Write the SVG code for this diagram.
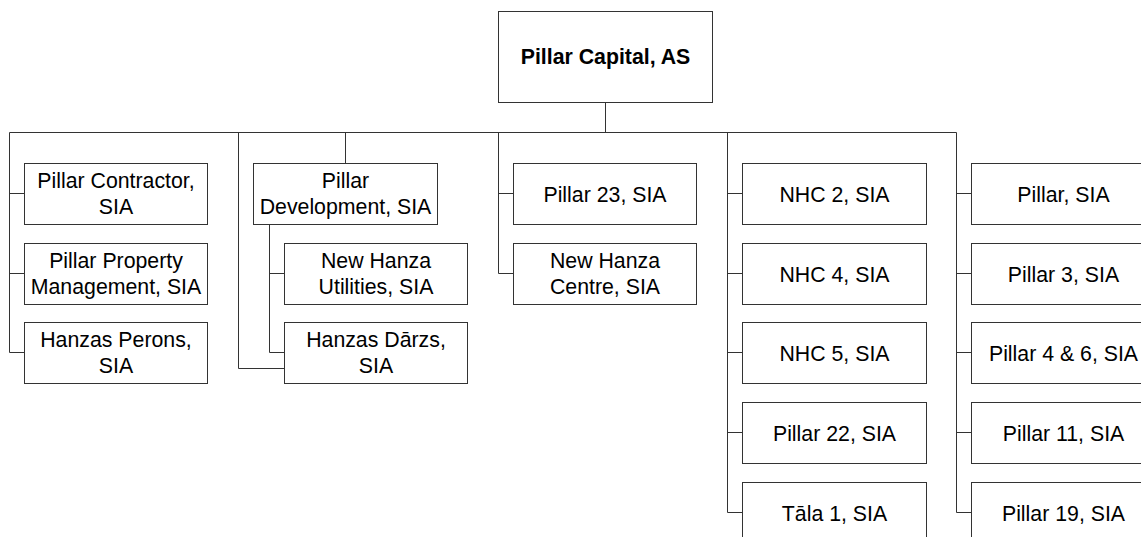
<svg xmlns="http://www.w3.org/2000/svg" width="1141" height="537" viewBox="0 0 1141 537">
<style>
.box{fill:#fff;stroke:#333;stroke-width:1}
.con{fill:none;stroke:#333;stroke-width:1}
text{font-family:"Liberation Sans",Arial,sans-serif;font-size:21.3px;fill:#000;text-anchor:middle}
.b{font-weight:bold}
</style>
<rect width="1141" height="537" fill="#fff"/>
<g id="connectors">
<path class="con" d="M605.5 102.5V132.5M9.5 132.5H956.5V512.5H971.5"/>
<path class="con" d="M9.5 132.5V352.5H24.5M9.5 193.5H24.5M9.5 273.5H24.5"/>
<path class="con" d="M238.5 132.5V368.5H284.5M345.5 132.5V163.5M269.5 224.5V352.5H284.5M269.5 273.5H284.5"/>
<path class="con" d="M498.5 132.5V273.5H513.5M498.5 193.5H513.5"/>
<path class="con" d="M727.5 132.5V512.5H742.5M727.5 193.5H742.5M727.5 273.5H742.5M727.5 352.5H742.5M727.5 432.5H742.5"/>
<path class="con" d="M956.5 193.5H971.5M956.5 273.5H971.5M956.5 352.5H971.5M956.5 432.5H971.5"/>
</g>
<g id="pillar-capital"><rect class="box" x="498.5" y="11.5" width="214" height="91"/><text class="b" x="605.5" y="64">Pillar Capital, AS</text></g>
<g id="pillar-contractor"><rect class="box" x="24.5" y="163.5" width="183" height="61"/><text x="116" y="187.5">Pillar Contractor,</text><text x="116" y="214">SIA</text></g>
<g id="pillar-property"><rect class="box" x="24.5" y="243.5" width="183" height="61"/><text x="116" y="267.5">Pillar Property</text><text x="116" y="294">Management, SIA</text></g>
<g id="hanzas-perons"><rect class="box" x="24.5" y="322.5" width="183" height="61"/><text x="116" y="346.5">Hanzas Perons,</text><text x="116" y="373">SIA</text></g>
<g id="pillar-development"><rect class="box" x="253.5" y="163.5" width="184" height="61"/><text x="345.5" y="187.5">Pillar</text><text x="345.5" y="214">Development, SIA</text></g>
<g id="new-hanza-utilities"><rect class="box" x="284.5" y="243.5" width="183" height="61"/><text x="376" y="267.5">New Hanza</text><text x="376" y="294">Utilities, SIA</text></g>
<g id="hanzas-darzs"><rect class="box" x="284.5" y="322.5" width="183" height="61"/><text x="376" y="346.5">Hanzas Dārzs,</text><text x="376" y="373">SIA</text></g>
<g id="pillar-23"><rect class="box" x="513.5" y="163.5" width="183" height="61"/><text x="605" y="201.5">Pillar 23, SIA</text></g>
<g id="new-hanza-centre"><rect class="box" x="513.5" y="243.5" width="183" height="61"/><text x="605" y="267.5">New Hanza</text><text x="605" y="294">Centre, SIA</text></g>
<g id="nhc-2"><rect class="box" x="742.5" y="163.5" width="184" height="61"/><text x="834.5" y="201.5">NHC 2, SIA</text></g>
<g id="nhc-4"><rect class="box" x="742.5" y="243.5" width="184" height="61"/><text x="834.5" y="281.5">NHC 4, SIA</text></g>
<g id="nhc-5"><rect class="box" x="742.5" y="322.5" width="184" height="61"/><text x="834.5" y="360.5">NHC 5, SIA</text></g>
<g id="pillar-22"><rect class="box" x="742.5" y="402.5" width="184" height="61"/><text x="834.5" y="440.5">Pillar 22, SIA</text></g>
<g id="tala-1"><rect class="box" x="742.5" y="482.5" width="184" height="61"/><text x="834.5" y="520.5">Tāla 1, SIA</text></g>
<g id="pillar"><rect class="box" x="971.5" y="163.5" width="184" height="61"/><text x="1063.5" y="201.5">Pillar, SIA</text></g>
<g id="pillar-3"><rect class="box" x="971.5" y="243.5" width="184" height="61"/><text x="1063.5" y="281.5">Pillar 3, SIA</text></g>
<g id="pillar-4-6"><rect class="box" x="971.5" y="322.5" width="184" height="61"/><text x="1063.5" y="360.5">Pillar 4 &amp; 6, SIA</text></g>
<g id="pillar-11"><rect class="box" x="971.5" y="402.5" width="184" height="61"/><text x="1063.5" y="440.5">Pillar 11, SIA</text></g>
<g id="pillar-19"><rect class="box" x="971.5" y="482.5" width="184" height="61"/><text x="1063.5" y="520.5">Pillar 19, SIA</text></g>
</svg>
